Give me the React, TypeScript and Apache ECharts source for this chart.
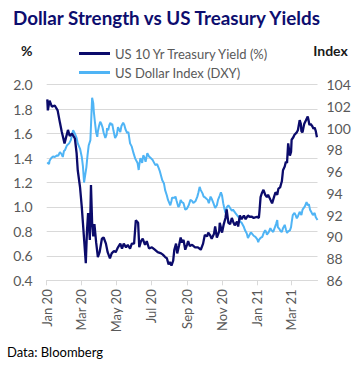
import React, { useEffect, useRef } from "react";
import * as echarts from "echarts";

const yieldDates = [
  "2020-01-02","2020-01-03","2020-01-06","2020-01-10","2020-01-15","2020-01-20","2020-01-24","2020-01-27",
  "2020-02-01","2020-02-07","2020-02-10","2020-02-14","2020-02-19","2020-02-22","2020-02-24","2020-02-28",
  "2020-03-02","2020-03-04","2020-03-09","2020-03-11","2020-03-13","2020-03-16","2020-03-18","2020-03-20",
  "2020-03-22","2020-03-24","2020-03-27","2020-03-30","2020-04-02","2020-04-06","2020-04-09","2020-04-13",
  "2020-04-16","2020-04-20","2020-04-23","2020-04-27","2020-04-30","2020-05-04","2020-05-08","2020-05-11",
  "2020-05-14","2020-05-18","2020-05-21","2020-05-25","2020-05-28","2020-06-01","2020-06-04","2020-06-08",
  "2020-06-10","2020-06-13","2020-06-16","2020-06-20","2020-06-23","2020-06-27","2020-07-02","2020-07-07",
  "2020-07-12","2020-07-18","2020-07-21","2020-07-25","2020-07-28","2020-07-31","2020-08-02","2020-08-05",
  "2020-08-08","2020-08-10","2020-08-13","2020-08-15","2020-08-18","2020-08-21","2020-08-23","2020-08-26",
  "2020-08-29","2020-09-01","2020-09-03","2020-09-06","2020-09-10","2020-09-15","2020-09-20","2020-09-25",
  "2020-09-29","2020-10-02","2020-10-06","2020-10-08","2020-10-11","2020-10-14","2020-10-18","2020-10-20",
  "2020-10-23","2020-10-27","2020-10-28","2020-11-01","2020-11-04","2020-11-07","2020-11-09","2020-11-12",
  "2020-11-15","2020-11-18","2020-11-21","2020-11-23","2020-11-27","2020-11-29","2020-12-02","2020-12-05",
  "2020-12-09","2020-12-12","2020-12-16","2020-12-19","2020-12-23","2020-12-26","2021-01-01","2021-01-04",
  "2021-01-05","2021-01-07","2021-01-09","2021-01-12","2021-01-15","2021-01-18","2021-01-20","2021-01-24",
  "2021-01-27","2021-01-31","2021-02-02","2021-02-05","2021-02-07","2021-02-10","2021-02-13","2021-02-15",
  "2021-02-18","2021-02-20","2021-02-22","2021-02-24","2021-02-27","2021-03-01","2021-03-02","2021-03-05",
  "2021-03-07","2021-03-11","2021-03-13","2021-03-16","2021-03-18","2021-03-19","2021-03-21","2021-03-23",
  "2021-03-24","2021-03-27","2021-03-30","2021-03-31","2021-04-02","2021-04-04","2021-04-07","2021-04-09",
  "2021-04-11","2021-04-13","2021-04-15"
];
const yieldValues = [
  1.88,1.79,1.87,1.82,1.83,1.79,1.69,1.62,
  1.52,1.63,1.58,1.60,1.56,1.44,1.30,1.16,
  1.00,0.87,0.54,0.80,0.95,0.73,1.18,0.87,
  0.76,0.86,0.71,0.59,0.63,0.74,0.75,0.70,
  0.63,0.58,0.62,0.64,0.63,0.67,0.70,0.66,
  0.70,0.67,0.69,0.66,0.70,0.70,0.89,0.87,
  0.67,0.72,0.74,0.69,0.72,0.66,0.67,0.65,
  0.63,0.62,0.61,0.59,0.58,0.53,0.55,0.52,
  0.56,0.65,0.70,0.62,0.68,0.75,0.71,0.73,
  0.65,0.69,0.72,0.68,0.69,0.67,0.67,0.65,
  0.70,0.77,0.76,0.79,0.77,0.74,0.78,0.84,
  0.75,0.80,0.87,0.79,0.86,0.91,0.98,0.87,
  0.86,0.91,0.87,0.85,0.88,0.84,0.93,0.90,
  0.93,0.90,0.93,0.92,0.92,0.91,0.92,0.91,
  0.96,1.08,1.11,1.14,1.10,1.08,1.10,1.06,
  1.03,1.09,1.12,1.10,1.15,1.16,1.21,1.30,
  1.33,1.37,1.36,1.52,1.42,1.45,1.55,1.57,
  1.59,1.61,1.63,1.71,1.68,1.62,1.61,1.66,
  1.68,1.71,1.74,1.72,1.67,1.68,1.66,1.64,
  1.65,1.62,1.57
];

const dxyDates = [
  "2020-01-02","2020-01-03","2020-01-05","2020-01-06","2020-01-09","2020-01-12","2020-01-15","2020-01-19",
  "2020-01-21","2020-01-24","2020-01-27","2020-01-29","2020-01-31","2020-02-02","2020-02-05","2020-02-09",
  "2020-02-12","2020-02-16","2020-02-19","2020-02-22","2020-02-24","2020-02-28","2020-03-02","2020-03-04",
  "2020-03-06","2020-03-08","2020-03-10","2020-03-12","2020-03-14","2020-03-17","2020-03-19","2020-03-20",
  "2020-03-22","2020-03-23","2020-03-25","2020-03-27","2020-03-29","2020-03-30","2020-04-01","2020-04-03",
  "2020-04-05","2020-04-07","2020-04-09","2020-04-12","2020-04-14","2020-04-15","2020-04-17","2020-04-19",
  "2020-04-21","2020-04-22","2020-04-24","2020-04-26","2020-04-29","2020-05-02","2020-05-04","2020-05-08",
  "2020-05-10","2020-05-13","2020-05-15","2020-05-17","2020-05-20","2020-05-22","2020-05-25","2020-05-28",
  "2020-05-31","2020-06-03","2020-06-07","2020-06-09","2020-06-10","2020-06-12","2020-06-14","2020-06-15",
  "2020-06-17","2020-06-19","2020-06-21","2020-06-24","2020-06-27","2020-06-29","2020-07-03","2020-07-05",
  "2020-07-08","2020-07-11","2020-07-14","2020-07-16","2020-07-20","2020-07-23","2020-07-25","2020-07-28",
  "2020-07-30","2020-08-03","2020-08-05","2020-08-06","2020-08-10","2020-08-12","2020-08-14","2020-08-17",
  "2020-08-19","2020-08-21","2020-08-23","2020-08-26","2020-08-29","2020-09-01","2020-09-04","2020-09-07",
  "2020-09-10","2020-09-12","2020-09-16","2020-09-19","2020-09-21","2020-09-23","2020-09-25","2020-09-28",
  "2020-09-30","2020-10-03","2020-10-07","2020-10-09","2020-10-12","2020-10-14","2020-10-17","2020-10-20",
  "2020-10-23","2020-10-25","2020-10-28","2020-10-30","2020-11-01","2020-11-03","2020-11-05","2020-11-07",
  "2020-11-09","2020-11-12","2020-11-15","2020-11-18","2020-11-20","2020-11-24","2020-11-27","2020-11-30",
  "2020-12-02","2020-12-05","2020-12-09","2020-12-11","2020-12-14","2020-12-16","2020-12-18","2020-12-21",
  "2020-12-23","2020-12-26","2020-12-29","2021-01-01","2021-01-03","2021-01-04","2021-01-07","2021-01-10",
  "2021-01-12","2021-01-15","2021-01-17","2021-01-18","2021-01-21","2021-01-24","2021-01-26","2021-01-29",
  "2021-02-01","2021-02-03","2021-02-05","2021-02-06","2021-02-09","2021-02-11","2021-02-13","2021-02-15",
  "2021-02-18","2021-02-20","2021-02-22","2021-02-24","2021-02-27","2021-03-01","2021-03-02","2021-03-04",
  "2021-03-07","2021-03-09","2021-03-11","2021-03-13","2021-03-16","2021-03-19","2021-03-21","2021-03-25",
  "2021-03-28","2021-03-30","2021-04-01","2021-04-03","2021-04-05","2021-04-08","2021-04-11","2021-04-13",
  "2021-04-16"
];
const dxyValues = [
  96.85,96.8,96.7,97.0,97.25,97.4,97.35,97.5,
  97.45,97.8,97.6,97.35,97.9,98.0,98.4,98.6,
  98.9,99.8,99.5,99.1,98.6,98.1,97.35,96.5,
  95.0,95.7,96.4,97.5,98.4,98.9,101.5,102.8,
  102.3,101.5,100.5,99.6,99.2,99.7,100.2,100.6,
  100.4,100.1,99.6,99.1,99.4,100.0,99.8,100.3,
  100.5,100.3,100.4,99.8,99.1,99.4,100.1,99.65,
  100.2,100.5,100.3,99.9,99.55,99.65,98.6,98.3,
  97.7,97.2,96.8,96.15,96.6,97.25,97.0,96.8,
  97.5,97.3,96.9,97.7,97.4,97.3,97.1,96.9,
  96.6,96.7,96.3,96.0,95.2,94.9,94.3,93.8,
  93.4,92.9,93.3,93.6,93.6,93.7,93.3,92.75,
  92.9,93.4,93.2,93.1,92.5,92.6,92.9,93.4,
  93.3,93.1,93.3,93.7,94.1,94.6,94.3,94.0,
  93.7,93.6,93.4,93.1,93.7,93.5,93.1,92.65,
  92.9,93.4,93.8,94.1,93.8,93.1,92.6,92.2,
  92.7,92.9,92.65,92.4,92.5,92.2,92.0,91.8,
  91.4,91.3,90.9,90.6,90.3,89.9,90.1,90.4,
  90.3,90.1,90.0,89.8,89.5,89.7,89.9,90.0,
  90.3,90.6,90.4,90.2,90.4,90.8,90.6,90.45,
  90.9,91.2,91.55,90.9,90.7,90.5,90.45,90.8,
  91.1,90.7,90.35,90.5,90.6,90.9,91.3,92.0,
  92.2,92.0,91.7,91.9,92.3,92.0,92.5,92.8,
  93.2,92.9,93.0,92.5,92.3,92.0,92.2,91.8,
  91.55
];

const xTickMonths = ["2020-01","2020-03","2020-05","2020-07","2020-09","2020-11","2021-01","2021-03"];
const monthNames = ["Jan","Feb","Mar","Apr","May","Jun","Jul","Aug","Sep","Oct","Nov","Dec"];
const seriesNames = ["US 10 Yr Treasury Yield (%)", "US Dollar Index (DXY)"];

const NAVY = "#0b0b6b";
const LIGHT = "#4fb4f5";
const FONT = "Lato, 'Noto Sans', sans-serif";

function toTime(s: string): number {
  const p = s.split("-").map(Number);
  return Date.UTC(p[0], p[1] - 1, p[2] || 1);
}

export default function App() {
  const ref = useRef<HTMLDivElement>(null);
  useEffect(() => {
    if (!ref.current) return;
    const chart = echarts.init(ref.current, undefined, { renderer: "svg" });
    const ticks = xTickMonths.map(toTime);
    chart.setOption({
      animation: false,
      backgroundColor: "#ffffff",
      title: {
        text: "Dollar Strength vs US Treasury Yields",
        left: 8,
        top: 3,
        textStyle: { fontFamily: FONT, fontWeight: "bold", fontSize: 18.8, color: "#0d0d6e" },
      },
      legend: {
        orient: "vertical",
        left: 74,
        top: 42,
        itemWidth: 31,
        itemHeight: 3,
        itemGap: 6,
        icon: "rect",
        textStyle: { fontFamily: FONT, fontSize: 13, color: "#595959" },
        data: seriesNames,
      },
      grid: { left: 46.7, right: 40.5, top: 84.7, bottom: 84.7, containLabel: false },
      xAxis: {
        type: "value",
        min: toTime("2020-01-01"),
        max: toTime("2021-04-16"),
        axisLine: { show: true, lineStyle: { color: "#d9d9d9", width: 1 } },
        axisTick: { show: true, customValues: ticks, length: 5, lineStyle: { color: "#d9d9d9" } },
        splitLine: { show: false },
        axisLabel: {
          customValues: ticks,
          rotate: 90,
          margin: 9,
          fontFamily: FONT,
          fontSize: 13,
          color: "#595959",
          formatter: (v: number) => {
            const d = new Date(v);
            return monthNames[d.getUTCMonth()] + " " + String(d.getUTCFullYear()).slice(2);
          },
        },
      },
      yAxis: [
        {
          type: "value",
          min: 0.4,
          max: 2.0,
          interval: 0.2,
          name: "%",
          nameLocation: "end",
          nameGap: 27,
          nameTextStyle: { fontFamily: FONT, fontWeight: "bold", fontSize: 14, color: "#1a1a1a", align: "center", padding: [0, 0, 0, -40] },
          axisLine: { show: false },
          axisTick: { show: false },
          splitLine: { lineStyle: { color: "#d9d9d9", width: 1 } },
          axisLabel: {
            margin: 14,
            fontFamily: FONT,
            fontSize: 14,
            color: "#595959",
            formatter: (v: number) => v.toFixed(1),
          },
        },
        {
          type: "value",
          min: 86,
          max: 104,
          interval: 2,
          name: "Index",
          nameLocation: "end",
          nameGap: 27,
          nameTextStyle: { fontFamily: FONT, fontWeight: "bold", fontSize: 14, color: "#1a1a1a", align: "center", padding: [0, 0, 0, 26] },
          axisLine: { show: false },
          axisTick: { show: false },
          splitLine: { show: false },
          axisLabel: { margin: 9, fontFamily: FONT, fontSize: 14, color: "#595959" },
        },
      ],
      series: [
        {
          name: seriesNames[0],
          type: "line",
          yAxisIndex: 0,
          showSymbol: false,
          symbol: "none",
          lineStyle: { color: NAVY, width: 2.3 },
          itemStyle: { color: NAVY },
          data: yieldDates.map((d, i) => [toTime(d), yieldValues[i]]),
          z: 3,
        },
        {
          name: seriesNames[1],
          type: "line",
          yAxisIndex: 1,
          showSymbol: false,
          symbol: "none",
          lineStyle: { color: LIGHT, width: 2 },
          itemStyle: { color: LIGHT },
          data: dxyDates.map((d, i) => [toTime(d), dxyValues[i]]),
          z: 2,
        },
      ],
      graphic: [
        {
          type: "text",
          left: 7,
          top: 345,
          style: { text: "Data: Bloomberg", fontFamily: FONT, fontSize: 13, fill: "#000000" },
        },
      ],
    });
    return () => chart.dispose();
  }, []);
  return <div ref={ref} style={{ width: 358, height: 365, position: "absolute", left: 0, top: 0 }} />;
}
